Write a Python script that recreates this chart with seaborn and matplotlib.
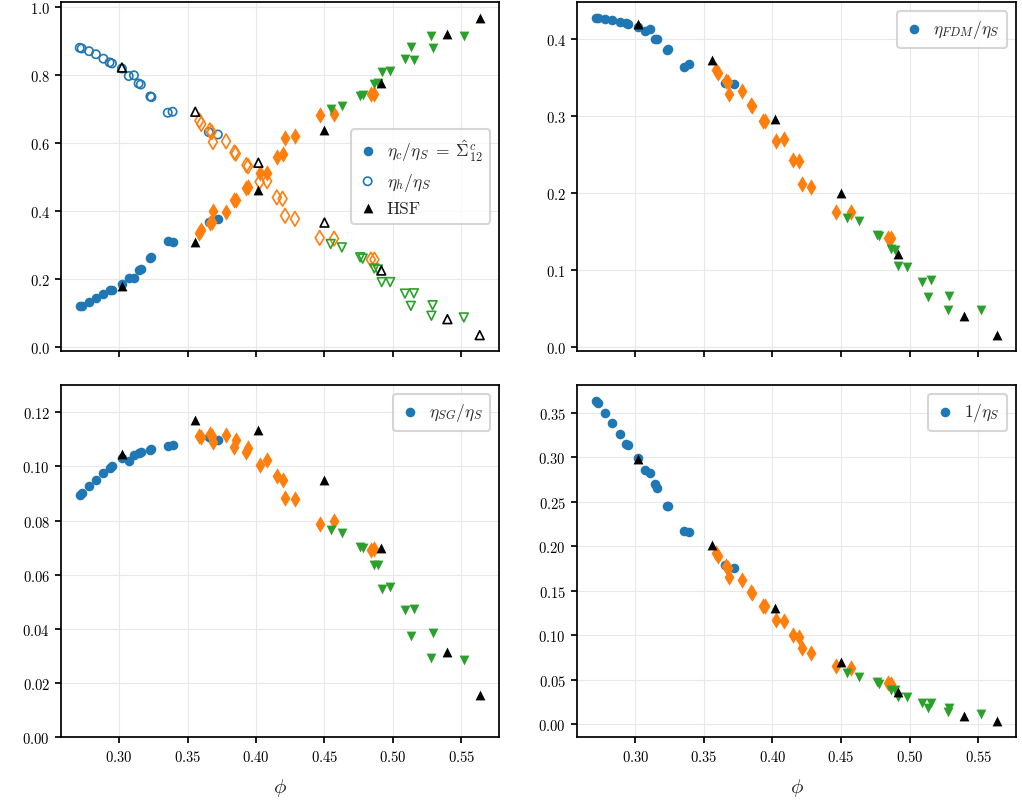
import numpy as np
import pandas as pd
import seaborn as sns
import matplotlib
matplotlib.use("Agg")
import matplotlib.pyplot as plt

# ---------------- data ----------------
phi_blue = [0.2712, 0.2726, 0.2780, 0.2830, 0.2885, 0.2930, 0.2947, 0.3020, 0.3070,
            0.3108, 0.3142, 0.3158, 0.3228, 0.3236, 0.3355, 0.3390, 0.3655, 0.3721]
phi_orange = [0.3586, 0.3600, 0.3663, 0.3675, 0.3685, 0.3781, 0.3842, 0.3852, 0.3930, 0.3942,
              0.4026, 0.4081, 0.4152, 0.4194, 0.4212, 0.4284, 0.4465, 0.4570, 0.4839, 0.4865]
phi_green = [0.4545, 0.4627, 0.4761, 0.4779, 0.4864, 0.4890, 0.4918, 0.4980, 0.5088,
             0.5131, 0.5153, 0.5281, 0.5290, 0.5518]
phi_hsf = [0.3020, 0.3556, 0.4017, 0.4500, 0.4915, 0.5398, 0.5634]

# eta_c / eta_S
etac_blue = [0.121, 0.123, 0.134, 0.144, 0.157, 0.168, 0.170, 0.187, 0.204,
             0.205, 0.228, 0.231, 0.264, 0.266, 0.314, 0.310, 0.368, 0.377]
etac_orange = [0.336, 0.346, 0.365, 0.368, 0.400, 0.397, 0.432, 0.434, 0.468, 0.471,
               0.514, 0.514, 0.560, 0.568, 0.615, 0.623, 0.682, 0.687, 0.745, 0.745]
etac_green = [0.701, 0.711, 0.740, 0.743, 0.774, 0.776, 0.811, 0.813, 0.847,
              0.883, 0.845, 0.915, 0.881, 0.915]
etac_hsf = [0.181, 0.310, 0.463, 0.638, 0.777, 0.923, 0.969]

# eta_h / eta_S
etah_blue = [0.881, 0.879, 0.871, 0.862, 0.849, 0.838, 0.835, 0.820, 0.798,
             0.800, 0.776, 0.773, 0.738, 0.736, 0.690, 0.693, 0.633, 0.626]
etah_orange = [0.667, 0.657, 0.638, 0.633, 0.604, 0.606, 0.573, 0.570, 0.536, 0.533,
               0.487, 0.489, 0.441, 0.437, 0.387, 0.378, 0.322, 0.320, 0.258, 0.258]
etah_green = [0.304, 0.294, 0.265, 0.261, 0.232, 0.229, 0.192, 0.192, 0.158,
              0.122, 0.159, 0.093, 0.124, 0.088]
etah_hsf = [0.823, 0.693, 0.543, 0.367, 0.226, 0.083, 0.036]

# eta_FDM / eta_S
fdm_blue = [0.4270, 0.4268, 0.4255, 0.4240, 0.4222, 0.4200, 0.4184, 0.4150, 0.4094,
            0.4120, 0.4000, 0.3991, 0.3850, 0.3862, 0.3626, 0.3665, 0.3420, 0.3406]
fdm_orange = [0.3591, 0.3548, 0.3449, 0.3432, 0.3277, 0.3320, 0.3140, 0.3131, 0.2925, 0.2933,
              0.2667, 0.2701, 0.2430, 0.2409, 0.2116, 0.2077, 0.1755, 0.1755, 0.1411, 0.1411]
fdm_green = [0.1669, 0.1626, 0.1454, 0.1432, 0.1269, 0.1260, 0.1054, 0.1041, 0.0839,
             0.0645, 0.0860, 0.0473, 0.0658, 0.0473]
fdm_hsf = [0.4185, 0.3720, 0.2959, 0.2000, 0.1204, 0.0396, 0.0150]

# eta_SG / eta_S
sg_blue = [0.0895, 0.0900, 0.0928, 0.0951, 0.0974, 0.0993, 0.1002, 0.1030, 0.1021,
           0.1043, 0.1049, 0.1052, 0.1060, 0.1064, 0.1074, 0.1080, 0.1107, 0.1098]
sg_orange = [0.1114, 0.1107, 0.1120, 0.1111, 0.1091, 0.1116, 0.1070, 0.1099, 0.1054, 0.1067,
             0.1005, 0.1023, 0.0963, 0.0951, 0.0883, 0.0879, 0.0788, 0.0799, 0.0690, 0.0694]
sg_green = [0.0765, 0.0753, 0.0702, 0.0700, 0.0635, 0.0636, 0.0548, 0.0556, 0.0469,
            0.0373, 0.0472, 0.0293, 0.0383, 0.0286]
sg_hsf = [0.1046, 0.1172, 0.1136, 0.0951, 0.0698, 0.0315, 0.0154]

# 1 / eta_S
inv_blue = [0.3630, 0.3611, 0.3491, 0.3379, 0.3263, 0.3150, 0.3131, 0.2993, 0.2853,
            0.2820, 0.2693, 0.2655, 0.2455, 0.2449, 0.2168, 0.2160, 0.1793, 0.1755]
inv_orange = [0.1924, 0.1886, 0.1774, 0.1755, 0.1650, 0.1616, 0.1490, 0.1474, 0.1324, 0.1324,
              0.1174, 0.1155, 0.1005, 0.0979, 0.0855, 0.0806, 0.0649, 0.0630, 0.0461, 0.0454]
inv_green = [0.0574, 0.0536, 0.0473, 0.0454, 0.0386, 0.0386, 0.0311, 0.0304, 0.0244,
             0.0180, 0.0244, 0.0135, 0.0180, 0.0116]
inv_hsf = [0.2974, 0.2017, 0.1301, 0.0705, 0.0360, 0.0094, 0.0037]

# ---------------- style ----------------
sns.set_theme(style="ticks")
plt.rcParams.update({
    "font.family": "serif",
    "font.serif": ["cmr10"],
    "mathtext.fontset": "cm",
    "axes.formatter.use_mathtext": True,
    "axes.unicode_minus": False,
    "axes.edgecolor": "black",
    "axes.linewidth": 1.25,
    "xtick.major.width": 1.25,
    "ytick.major.width": 1.25,
    "xtick.major.size": 4.5,
    "ytick.major.size": 4.5,
    "xtick.major.pad": 4.5,
    "xtick.color": "black",
    "ytick.color": "black",
    "xtick.labelsize": 10.5,
    "ytick.labelsize": 10.5,
    "axes.labelsize": 15,
    "grid.color": "#e8e8e8",
    "grid.linewidth": 0.8,
})

BLUE, ORANGE, GREEN = "#1f77b4", "#ff7f0e", "#2ca02c"
S_O, S_D, S_T = 48, 70, 50

fig, axes = plt.subplots(2, 2, figsize=(10.22, 8.04), dpi=100, sharex=True)
(ax_tl, ax_tr), (ax_bl, ax_br) = axes

W = 1022.0
H = 804.0
ax_tl.set_position([61 / W, 1 - 352 / H, 438 / W, 349 / H])
ax_tr.set_position([577 / W, 1 - 352 / H, 439 / W, 349 / H])
ax_bl.set_position([61 / W, 1 - 738 / H, 438 / W, 352 / H])
ax_br.set_position([577 / W, 1 - 738 / H, 439 / W, 352 / H])


def draw(ax, yb, yo, yg, yh, filled=True, blabel=None, hlabel=None):
    if filled:
        sns.scatterplot(x=phi_blue, y=yb, ax=ax, marker="o", s=S_O, color=BLUE,
                        linewidth=0, label=blabel, zorder=3)
        sns.scatterplot(x=phi_orange, y=yo, ax=ax, marker="d", s=S_D, color=ORANGE,
                        linewidth=0, zorder=3)
        sns.scatterplot(x=phi_green, y=yg, ax=ax, marker="v", s=S_T, color=GREEN,
                        linewidth=0, zorder=3)
        sns.scatterplot(x=phi_hsf, y=yh, ax=ax, marker="^", s=S_T, color="black",
                        linewidth=0, label=hlabel, zorder=4)
    else:
        sns.scatterplot(x=phi_blue, y=yb, ax=ax, marker="o", s=S_O * 0.75, facecolor="none",
                        edgecolor=BLUE, linewidth=1.2, label=blabel, zorder=3)
        sns.scatterplot(x=phi_orange, y=yo, ax=ax, marker="d", s=S_D * 0.8, facecolor="none",
                        edgecolor=ORANGE, linewidth=1.2, zorder=3)
        sns.scatterplot(x=phi_green, y=yg, ax=ax, marker="v", s=S_T * 0.8, facecolor="none",
                        edgecolor=GREEN, linewidth=1.2, zorder=3)
        sns.scatterplot(x=phi_hsf, y=yh, ax=ax, marker="^", s=S_T * 0.8, facecolor="none",
                        edgecolor="black", linewidth=1.2, label=hlabel, zorder=4)


draw(ax_tl, etac_blue, etac_orange, etac_green, etac_hsf, True,
     r"$\eta_c/\eta_S\;=\;\hat{\Sigma}^c_{12}$", "HSF")
draw(ax_tl, etah_blue, etah_orange, etah_green, etah_hsf, False, r"$\eta_h/\eta_S$", None)
draw(ax_tr, fdm_blue, fdm_orange, fdm_green, fdm_hsf, True, r"$\eta_{FDM}/\eta_S$")
draw(ax_bl, sg_blue, sg_orange, sg_green, sg_hsf, True, r"$\eta_{SG}/\eta_S$")
draw(ax_br, inv_blue, inv_orange, inv_green, inv_hsf, True, r"$1/\eta_S$")

ax_tl.set_xlim(0.2575, 0.5775)
ax_tl.set_xticks([0.30, 0.35, 0.40, 0.45, 0.50, 0.55])
ax_tl.set_yticks([0.0, 0.2, 0.4, 0.6, 0.8, 1.0])
ax_tr.set_yticks([0.0, 0.1, 0.2, 0.3, 0.4])
ax_bl.set_ylim(0.0, 0.1301)
ax_bl.set_yticks([0.00, 0.02, 0.04, 0.06, 0.08, 0.10, 0.12])
ax_br.set_yticks([0.00, 0.05, 0.10, 0.15, 0.20, 0.25, 0.30, 0.35])

for ax in axes.flat:
    ax.grid(True)
    ax.set_axisbelow(True)
    ax.set_ylabel("")
    ax.set_xlabel("")
    for sp in ax.spines.values():
        sp.set_visible(True)
ax_bl.set_xlabel(r"$\phi$", labelpad=8)
ax_br.set_xlabel(r"$\phi$", labelpad=8)

leg_kw = dict(fontsize=12.5, frameon=True, fancybox=True, edgecolor="0.8",
              handlelength=1.0, handletextpad=0.6, borderpad=0.45, labelspacing=0.45)
h, l = ax_tl.get_legend_handles_labels()
order = [l.index(r"$\eta_c/\eta_S\;=\;\hat{\Sigma}^c_{12}$"), l.index(r"$\eta_h/\eta_S$"), l.index("HSF")]
ax_tl.legend([h[i] for i in order], [l[i] for i in order], loc="center right", **leg_kw)
ax_tr.legend(loc="upper right", **leg_kw)
ax_bl.legend(loc="upper right", **leg_kw)
ax_br.legend(loc="upper right", **leg_kw)
for ax in axes.flat:
    ax.get_legend().get_frame().set_linewidth(1.5)

fig.savefig("out.png", dpi=100)
